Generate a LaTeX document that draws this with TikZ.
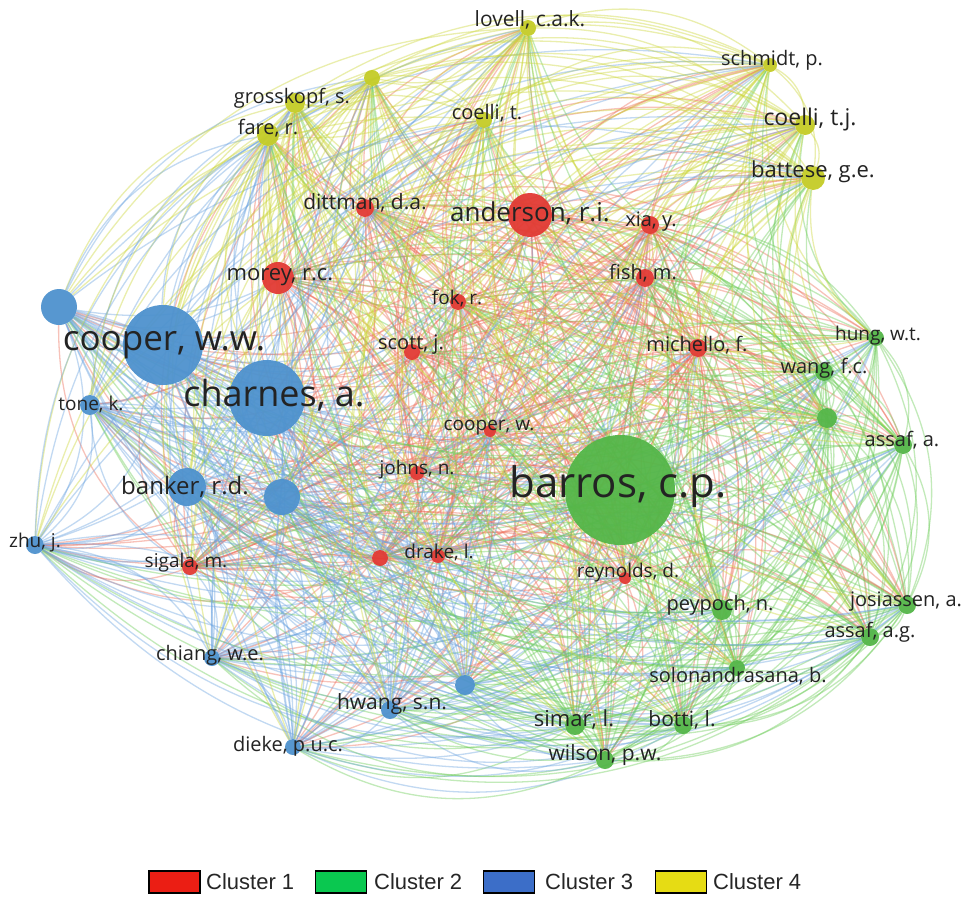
\documentclass[tikz,border=0pt]{standalone}
\usepackage{fontspec}
\newfontfamily\labfont{Open Sans}
\newfontfamily\legfont{Liberation Sans}
\pgfdeclarelayer{bg}
\pgfdeclarelayer{edges}
\pgfsetlayers{bg,edges,main}
\definecolor{n1c}{RGB}{226,58,52}
\definecolor{n2c}{RGB}{84,182,72}
\definecolor{n3c}{RGB}{78,146,206}
\definecolor{n4c}{RGB}{196,204,38}
\definecolor{e1}{RGB}{238,110,90}
\definecolor{e2}{RGB}{110,205,90}
\definecolor{e3}{RGB}{110,165,225}
\definecolor{e4}{RGB}{205,215,60}
\definecolor{labc}{RGB}{35,35,35}
\definecolor{lg1}{RGB}{235,30,20}
\definecolor{lg2}{RGB}{10,200,80}
\definecolor{lg3}{RGB}{60,110,200}
\definecolor{lg4}{RGB}{230,220,20}
\tikzset{
 dot/.style 2 args={circle, inner sep=0pt, minimum size=#2, fill=#1, fill opacity=0.95},
 lab/.style={font=\labfont\fontsize{#1}{#1}\selectfont, text=labc, inner sep=0pt},
 edge/.style={line width=1.3pt, draw opacity=0.42},
 legbox/.style={draw=black, line width=1.4pt, minimum width=51pt, minimum height=22pt, inner sep=0pt},
 legtext/.style={font=\legfont\fontsize{22}{22}\selectfont, text=black!85, anchor=west, inner sep=0pt}
}
\begin{document}
\begin{tikzpicture}[x=1pt,y=-1pt]
\begin{pgfonlayer}{bg}
\fill[white] (0,0) rectangle (964,900);
\end{pgfonlayer}
\useasboundingbox (0,0) rectangle (964,900);
% cluster 1 (red)
\node[dot={n1c}{44}] (n1) at (530,215) {};
\node[dot={n1c}{18}] (n2) at (365,208) {};
\node[dot={n1c}{18}] (n3) at (650,225) {};
\node[dot={n1c}{32}] (n4) at (278,278) {};
\node[dot={n1c}{18}] (n5) at (645,278) {};
\node[dot={n1c}{16}] (n6) at (458,302) {};
\node[dot={n1c}{16}] (n7) at (412,352) {};
\node[dot={n1c}{18}] (n8) at (698,348) {};
\node[dot={n1c}{12}] (n9) at (490,431) {};
\node[dot={n1c}{14}] (n10) at (417,473) {};
\node[dot={n1c}{16}] (n11) at (380,558) {};
\node[dot={n1c}{14}] (n12) at (438,556) {};
\node[dot={n1c}{16}] (n13) at (190,567) {};
\node[dot={n1c}{12}] (n14) at (625,578) {};
% cluster 2 (green)
\node[dot={n2c}{110}] (n15) at (620,490) {};
\node[dot={n2c}{16}] (n16) at (876,338) {};
\node[dot={n2c}{18}] (n17) at (824,372) {};
\node[dot={n2c}{20}] (n18) at (827,418) {};
\node[dot={n2c}{18}] (n19) at (903,445) {};
\node[dot={n2c}{18}] (n20) at (907,605) {};
\node[dot={n2c}{20}] (n21) at (722,610) {};
\node[dot={n2c}{18}] (n22) at (870,637) {};
\node[dot={n2c}{16}] (n23) at (737,668) {};
\node[dot={n2c}{20}] (n24) at (575,725) {};
\node[dot={n2c}{18}] (n25) at (683,725) {};
\node[dot={n2c}{18}] (n26) at (605,760) {};
% cluster 3 (blue)
\node[dot={n3c}{80}] (n27) at (163,345) {};
\node[dot={n3c}{76}] (n28) at (267,398) {};
\node[dot={n3c}{36}] (n29) at (59,307) {};
\node[dot={n3c}{20}] (n30) at (90,405) {};
\node[dot={n3c}{38}] (n31) at (187,487) {};
\node[dot={n3c}{36}] (n32) at (282,497) {};
\node[dot={n3c}{18}] (n33) at (35,545) {};
\node[dot={n3c}{16}] (n34) at (212,658) {};
\node[dot={n3c}{18}] (n35) at (390,710) {};
\node[dot={n3c}{16}] (n36) at (293,747) {};
\node[dot={n3c}{20}] (n37) at (465,685) {};
% cluster 4 (yellow)
\node[dot={n4c}{16}] (n38) at (528,28) {};
\node[dot={n4c}{16}] (n39) at (372,78) {};
\node[dot={n4c}{20}] (n40) at (295,103) {};
\node[dot={n4c}{22}] (n41) at (268,135) {};
\node[dot={n4c}{16}] (n42) at (484,120) {};
\node[dot={n4c}{14}] (n43) at (770,65) {};
\node[dot={n4c}{20}] (n44) at (805,125) {};
\node[dot={n4c}{24}] (n45) at (813,178) {};
% connectors
\begin{pgfonlayer}{edges}
\foreach \i in {1,...,44}{
  \pgfmathtruncatemacro\s{\i+1}
  \foreach \j in {\s,...,45}{
    \pgfmathtruncatemacro\ca{(\i>14)+(\i>26)+(\i>37)+1}
    \pgfmathtruncatemacro\cb{(\j>14)+(\j>26)+(\j>37)+1}
    \pgfmathtruncatemacro\cc{mod(\i+\j,2)==0 ? \ca : \cb}
    \draw[edge, color=e\cc] (n\i) to[bend left=28] (n\j);
  }
}
\end{pgfonlayer}
% labels
\node[lab=26] (l1) at (530,213) {anderson, r.i.};
\node[lab=21] (l2) at (365,203) {dittman, d.a.};
\node[lab=20] (l3) at (651,222) {xia, y.};
\node[lab=22] (l4) at (280,277) {morey, r.c.};
\node[lab=20] (l5) at (643,273) {fish, m.};
\node[lab=19] (l6) at (457,298) {fok, r.};
\node[lab=20] (l7) at (411,345) {scott, j.};
\node[lab=20] (l8) at (697,345) {michello, f.};
\node[lab=19] (l9) at (489,428) {cooper, w.};
\node[lab=19] (l10) at (417,470) {johns, n.};
\node[lab=19] (l12) at (439,552) {drake, l.};
\node[lab=19] (l13) at (186,563) {sigala, m.};
\node[lab=19] (l14) at (628,573) {reynolds, d.};
\node[lab=42] (l15) at (618,487) {barros, c.p.};
\node[lab=19] (l16) at (878,336) {hung, w.t.};
\node[lab=20] (l17) at (824,368) {wang, f.c.};
\node[lab=20] (l19) at (902,440) {assaf, a.};
\node[lab=20] (l20) at (906,602) {josiassen, a.};
\node[lab=20] (l21) at (720,605) {peypoch, n.};
\node[lab=20] (l22) at (870,632) {assaf, a.g.};
\node[lab=20] (l23) at (738,676) {solonandrasana, b.};
\node[lab=22] (l24) at (574,720) {simar, l.};
\node[lab=21] (l25) at (682,720) {botti, l.};
\node[lab=21] (l26) at (605,755) {wilson, p.w.};
\node[lab=35] (l27) at (164,345) {cooper, w.w.};
\node[lab=36] (l28) at (274,395) {charnes, a.};
\node[lab=19] (l30) at (91,405) {tone, k.};
\node[lab=24] (l31) at (185,487) {banker, r.d.};
\node[lab=19] (l33) at (35,543) {zhu, j.};
\node[lab=20] (l34) at (210,655) {chiang, w.e.};
\node[lab=21] (l35) at (392,704) {hwang, s.n.};
\node[lab=20] (l36) at (288,746) {dieke, p.u.c.};
\node[lab=21] (l38) at (530,20) {lovell, c.a.k.};
\node[lab=20] (l40) at (292,98) {grosskopf, s.};
\node[lab=20] (l41) at (268,128) {fare, r.};
\node[lab=20] (l42) at (487,113) {coelli, t.};
\node[lab=20] (l43) at (772,60) {schmidt, p.};
\node[lab=23] (l44) at (810,120) {coelli, t.j.};
\node[lab=22] (l45) at (813,172) {battese, g.e.};
% legend
\node[legbox, fill=lg1] (k1) at (174.5,882) {};
\node[legtext] (t1) at (206,882) {Cluster 1};
\node[legbox, fill=lg2] (k2) at (341,882) {};
\node[legtext] (t2) at (374,882) {Cluster 2};
\node[legbox, fill=lg3] (k3) at (509,882) {};
\node[legtext] (t3) at (545,882) {Cluster 3};
\node[legbox, fill=lg4] (k4) at (681,882) {};
\node[legtext] (t4) at (713,882) {Cluster 4};
\end{tikzpicture}
\end{document}
